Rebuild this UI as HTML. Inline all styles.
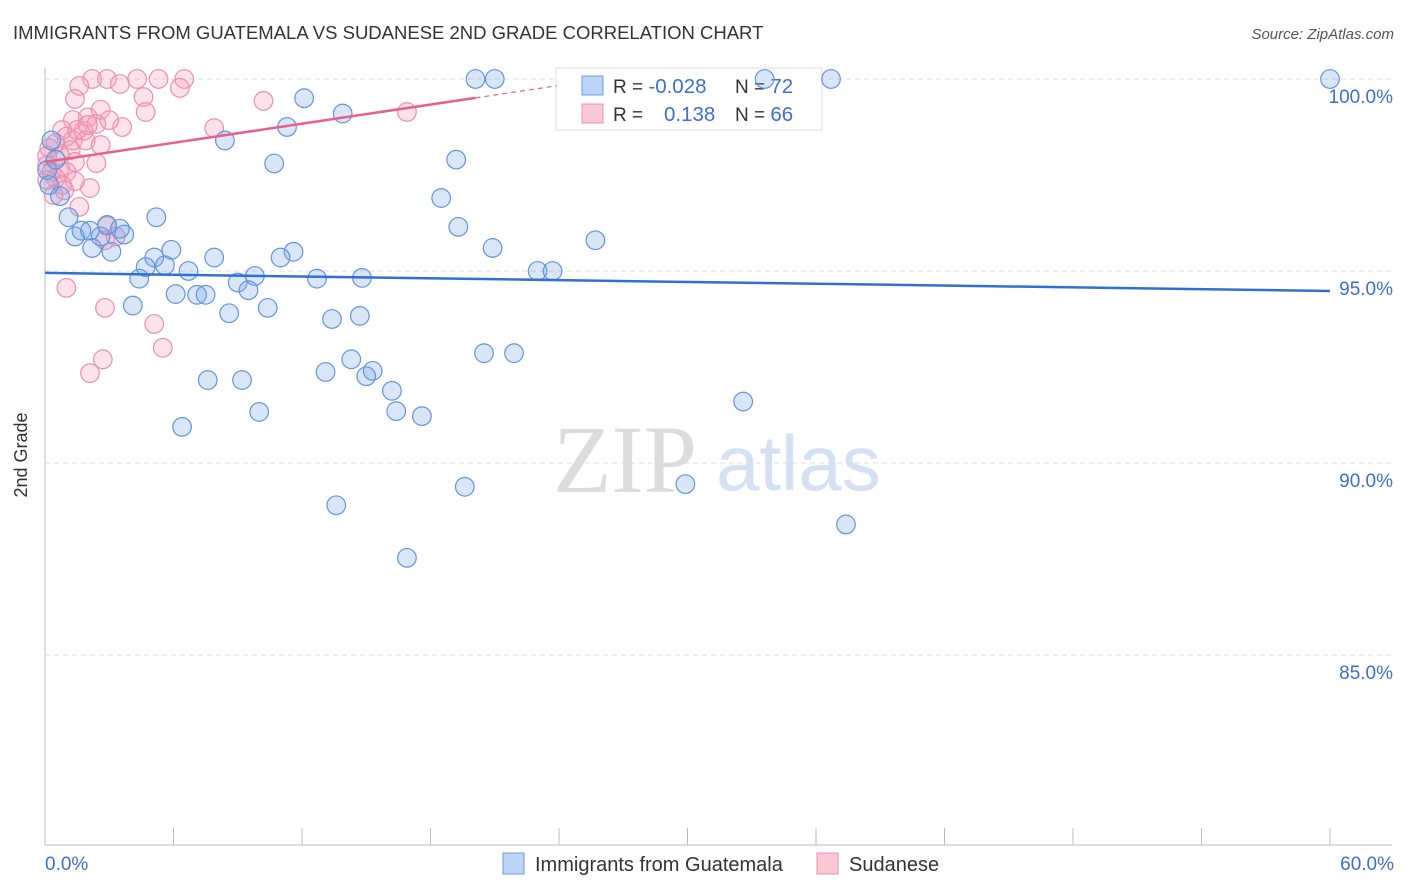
<!DOCTYPE html>
<html><head><meta charset="utf-8"><style>
body{margin:0;background:#fff;font-family:"Liberation Sans",sans-serif;}
svg{display:block}
</style></head><body>
<svg id="c" width="1406" height="892" xmlns="http://www.w3.org/2000/svg">
<text x="13" y="39" font-size="18.5" fill="#333">IMMIGRANTS FROM GUATEMALA VS SUDANESE 2ND GRADE CORRELATION CHART</text>
<text x="1394" y="39" font-size="15" fill="#555" font-style="italic" text-anchor="end">Source: ZipAtlas.com</text>
<text x="27" y="455" font-size="18" fill="#333" text-anchor="middle" transform="rotate(-90 27 455)">2nd Grade</text>
<g>
<text x="553" y="492" font-size="96" fill="#dcdcdc" font-family="Liberation Serif,serif">ZIP</text>
<text x="716" y="490" font-size="78" fill="#d3e1f3">atlas</text>
</g>
<g id="grid"></g><g id="axes"></g>
<g>
<rect x="556" y="68" width="266" height="62" fill="#fff" stroke="#ddd"/>
<rect x="582" y="76" width="21" height="19" fill="#bcd4f5" stroke="#6a9be0"/>
<rect x="582" y="104" width="21" height="19" fill="#f9c7d6" stroke="#ec8fad"/>
<text x="613" y="93" font-size="19" fill="#333">R = <tspan fill="#3d6fd0" font-size="20.5">-0.028</tspan></text>
<text x="735" y="93" font-size="19" fill="#333">N = <tspan fill="#3d6fd0" font-size="20.5">72</tspan></text>
<text x="613" y="121" font-size="19" fill="#333">R = <tspan fill="#3d6fd0" x="664" font-size="20.5">0.138</tspan></text>
<text x="735" y="121" font-size="19" fill="#333">N = <tspan fill="#3d6fd0" font-size="20.5">66</tspan></text>
</g>
<g id="pts"></g><g id="lines"></g>
<g>
<rect x="503" y="853" width="21" height="21" fill="#bcd4f5" stroke="#6a9be0"/>
<text x="535" y="871" font-size="20" fill="#333">Immigrants from Guatemala</text>
<rect x="817" y="853" width="21" height="21" fill="#f9c7d6" stroke="#ec8fad"/>
<text x="849" y="871" font-size="20" fill="#333">Sudanese</text>
</g>
</svg>
<script>
const yTicks=[100,95,90,85];
const xTickVals=[0,6,12,18,24,30,36,42,48,54,60];
const xLabels=[[0,"0.0%"],[60,"60.0%"]];
const blueX=[20.1,21.0,33.6,36.7,60.0,12.1,13.9,11.3,8.4,0.3,19.2,10.7,18.5,0.7,19.3,1.1,5.2,1.4,1.7,2.1,2.6,2.9,3.7,2.2,3.1,3.5,25.7,20.9,5.9,7.9,11.6,11.0,5.1,4.7,5.6,6.7,23.0,23.7,4.4,9.8,12.7,14.8,9.0,9.5,6.1,7.1,7.5,4.1,10.4,8.6,13.4,14.7,20.5,21.9,14.3,15.3,13.1,15.0,7.6,9.2,16.2,32.6,10.0,16.4,17.6,6.4,19.6,29.9,13.6,37.4,16.9,0.1,0.2,0.5];
const blueY=[100,100,100,100,100,99.5,99.1,98.75,98.4,98.4,97.9,97.8,96.9,96.95,96.15,96.4,96.4,95.9,96.05,96.05,95.9,96.2,95.95,95.6,95.5,96.1,95.8,95.6,95.55,95.35,95.5,95.35,95.35,95.1,95.15,95.0,95.0,95.0,94.8,94.87,94.8,94.82,94.7,94.5,94.4,94.38,94.38,94.1,94.04,93.9,93.75,93.83,92.86,92.86,92.7,92.4,92.37,92.26,92.16,92.16,91.88,91.6,91.33,91.35,91.22,90.94,89.38,89.45,88.9,88.4,87.53,97.63,97.24,97.9];
const pinkX=[2.2,2.9,4.3,5.3,6.5,1.6,3.5,6.3,1.4,4.6,10.2,16.9,4.7,7.9,2.6,3.6,2.0,1.3,2.4,0.8,1.0,0.5,1.8,3.0,1.2,0.2,2.4,1.4,0.7,0.1,0.3,1.0,2.1,1.4,0.8,0.5,0.1,1.6,2.9,3.3,2.8,1.0,2.8,5.1,5.5,2.7,2.1,0.1,0.7,1.3,1.9,0.9,0.4,2.6,1.5,2.0];
const pinkY=[100,100,100,100,100,99.82,99.87,99.77,99.48,99.53,99.43,99.14,99.14,98.72,99.2,98.75,99.0,98.93,98.83,98.67,98.5,98.33,98.65,98.93,98.15,98.2,97.81,97.84,97.68,97.76,97.58,97.58,97.16,97.34,97.24,97.42,97.37,96.67,96.17,95.9,95.8,94.56,94.04,93.62,93.0,92.7,92.34,98.0,98.0,98.4,98.4,97.1,96.98,98.28,98.67,98.8];
const blueTrend=[94.95,94.48];
const pinkTrend=[97.84,0.083];
const NS="http://www.w3.org/2000/svg";
const sx=v=>45+v/60*1285;
const sy=v=>79+(100-v)*38.4;
function mk(tag,attrs,parent){const e=document.createElementNS(NS,tag);for(const k in attrs)e.setAttribute(k,attrs[k]);document.getElementById(parent).appendChild(e);return e;}
yTicks.forEach(t=>{
 const l=mk('line',{x1:45,x2:1392,y1:sy(t),y2:sy(t),stroke:'#ddd','stroke-dasharray':'5,4'},'grid');
 
 
 const tx=mk('text',{x:1393,y:sy(t)+24,'font-size':19,fill:'#3d6fd0','text-anchor':'end'},'grid');
 tx.textContent=t.toFixed(1)+'%';
 
 
});
let a=mk('line',{x1:45,x2:45,y1:68,y2:845,stroke:'#bbb'},'axes');


a=mk('line',{x1:45,x2:1392,y1:845,y2:845,stroke:'#bbb'},'axes');


xTickVals.forEach(v=>{
 const t=mk('line',{x1:sx(v),x2:sx(v),y1:828,y2:845,stroke:'#bbb'},'axes');
 
 
});
xLabels.forEach(([v,s])=>{
 const t=mk('text',{x:v==0?45:1394,y:870,'font-size':19,fill:'#3d6fd0','text-anchor':v==0?'start':'end'},'axes');
 t.textContent=s;
 
 
});
pinkX.forEach((x,i)=>{
 const c=mk('circle',{cx:sx(x),cy:sy(pinkY[i]),r:9.3,fill:'rgba(244,160,188,0.3)',stroke:'#ec8fad','stroke-width':1.2},'pts');
 
 
});
blueX.forEach((x,i)=>{
 const c=mk('circle',{cx:sx(x),cy:sy(blueY[i]),r:9.3,fill:'rgba(120,165,230,0.28)',stroke:'#6294dd','stroke-width':1.2},'pts');
 
 
});
let ln=mk('line',{x1:sx(0),y1:sy(blueTrend[0]),x2:sx(60),y2:sy(blueTrend[1]),stroke:'#2f6fd6','stroke-width':2.5},'lines');


const pf=x=>pinkTrend[0]+pinkTrend[1]*x;
ln=mk('line',{x1:sx(0),y1:sy(pf(0)),x2:sx(20.1),y2:sy(pf(20.1)),stroke:'#e8608a','stroke-width':2.5},'lines');


ln=mk('line',{x1:sx(20.1),y1:sy(pf(20.1)),x2:sx(23.9),y2:sy(pf(23.9)),stroke:'#e8608a','stroke-width':1.2,'stroke-dasharray':'5,4'},'lines');


</script>
</body></html>
